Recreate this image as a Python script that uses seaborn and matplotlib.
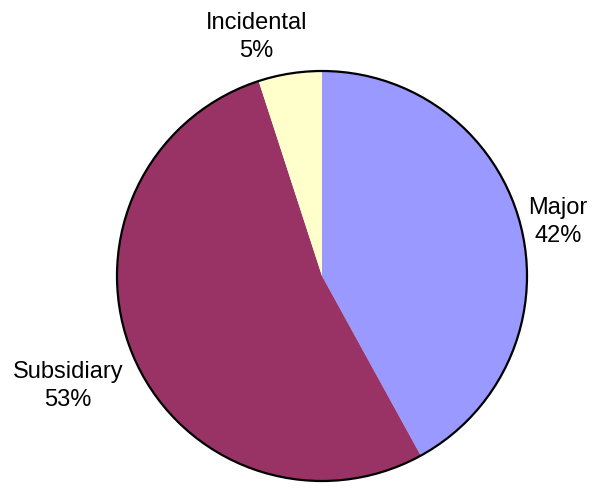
import matplotlib
matplotlib.use("Agg")
import matplotlib.pyplot as plt
import seaborn as sns
from matplotlib.patches import Circle

# data
categories = ["Major", "Subsidiary", "Incidental"]
shares = [42, 53, 5]
colors = ["#9999FF", "#993366", "#FFFFCC"]

sns.set_theme(style="white")
plt.rcParams['font.family'] = ['Liberation Sans', 'DejaVu Sans']

fig = plt.figure(figsize=(5.92, 4.89), dpi=100)
ax = fig.add_axes([117 / 592, 7 / 489, 410 / 592, 410 / 489])

labels = [f"{c}\n{s}%" for c, s in zip(categories, shares)]
wedges, texts = ax.pie(shares, colors=colors, startangle=90, counterclock=False,
                       labels=labels, wedgeprops=dict(linewidth=0),
                       textprops=dict(fontsize=17, ha='center', va='center',
                                      color='black', linespacing=1.35))

# place labels the way the original (Excel style) does
label_pos = [(1.15, 0.27), (-1.24, -0.53), (-0.32, 1.17)]
for t, p in zip(texts, label_pos):
    t.set_position(p)
    t.set_ha('center')
    t.set_clip_on(False)

ax.add_patch(Circle((0, 0), 1, fill=False, edgecolor='black', linewidth=1.6,
                    clip_on=False))
ax.set_xlim(-1, 1)
ax.set_ylim(-1, 1)
ax.set_aspect('equal')
ax.axis('off')

fig.savefig("out.png", dpi=100, facecolor='white')
